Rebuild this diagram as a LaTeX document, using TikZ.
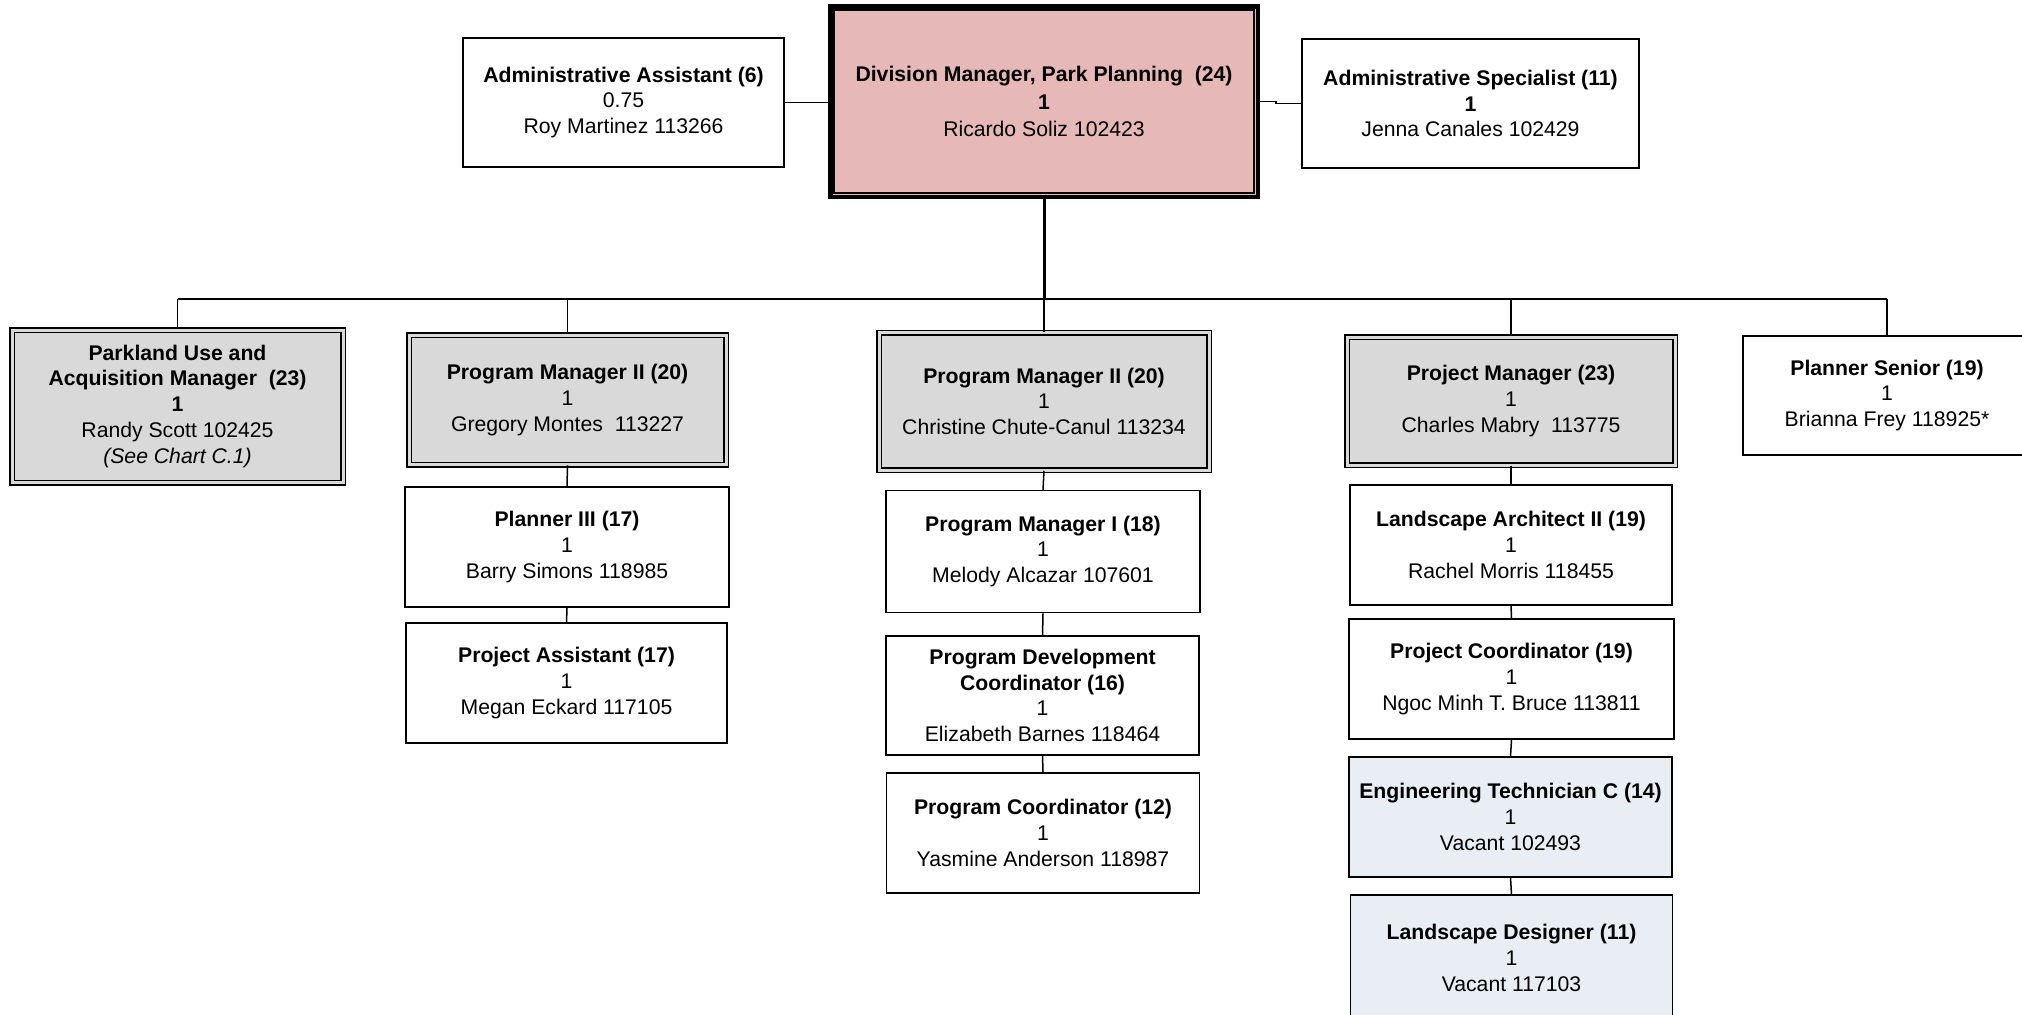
\documentclass[tikz,border=0pt]{standalone}
\usepackage{fontspec}
\setmainfont{Liberation Sans}
\definecolor{pinkfill}{HTML}{E6B8B7}
\definecolor{grayfill}{HTML}{D9D9D9}
\definecolor{bluefill}{HTML}{E9EDF4}
\tikzset{
  box/.style={draw=black, line width=0.75pt, fill=white, align=center, inner sep=0pt,
              font=\fontsize{10.6}{12.9}\selectfont},
  graybox/.style={box, fill=grayfill, double=grayfill, double distance=1.5pt, line width=0.75pt},
  bluebox/.style={box, fill=bluefill},
  topbox/.style={box, fill=pinkfill, line width=2.25pt, font=\fontsize{10.6}{13.8}\selectfont},
  link/.style={draw=black, line width=0.75pt},
  trunk/.style={draw=black, line width=1.5pt}
}
\begin{document}
\begin{tikzpicture}[x=0.5pt, y=-0.5pt]
\clip (0,0) rectangle (2022,1014);
\fill[white] (0,0) rectangle (2022,1014);

% top level
\node[topbox, minimum width=213.75pt, minimum height=95.25pt] (div) at (1044,101.5)
  {\textbf{Division Manager, Park Planning~ (24)}\\ \textbf{1}\\ Ricardo Soliz 102423};
\draw[line width=1pt] ([xshift=2.9pt,yshift=-2.9pt]div.north west) rectangle ([xshift=-2.9pt,yshift=2.9pt]div.south east);

\node[box, minimum width=160.5pt, minimum height=64.5pt] (asst) at (623.5,102.5)
  {\textbf{Administrative Assistant (6)}\\ 0.75\\ Roy Martinez 113266};
\node[box, minimum width=168.5pt, minimum height=64.5pt] (spec) at (1470.5,103.5)
  {\textbf{Administrative Specialist (11)}\\ \textbf{1}\\ Jenna Canales 102429};

% second level
\node[graybox, minimum width=165.5pt, minimum height=76.25pt] (park) at (177.5,406.25)
  {\textbf{Parkland Use and}\\ \textbf{Acquisition Manager~ (23)}\\ \textbf{1}\\ Randy Scott 102425\\ \textit{(See Chart C.1)}};
\node[graybox, minimum width=158.5pt, minimum height=64.75pt] (greg) at (567.5,399.75)
  {\textbf{Program Manager II (20)}\\ 1\\ Gregory Montes~ 113227};
\node[graybox, minimum width=165pt, minimum height=68.75pt] (chris) at (1044,401.25)
  {\textbf{Program Manager II (20)}\\ 1\\ Christine Chute-Canul 113234};
\node[graybox, minimum width=164pt, minimum height=64pt] (charles) at (1511,401)
  {\textbf{Project Manager (23)}\\ 1\\ Charles Mabry~ 113775};
\node[box, minimum width=144pt, minimum height=59.5pt] (senior) at (1887,395.5)
  {\textbf{Planner Senior (19)}\\ 1\\ Brianna Frey 118925*};

% third level
\node[box, minimum width=162pt, minimum height=60pt] (p3) at (567,547)
  {\textbf{Planner III (17)}\\ 1\\ Barry Simons 118985};
\node[box, minimum width=160.5pt, minimum height=60pt] (pa) at (566.5,683)
  {\textbf{Project Assistant (17)}\\ 1\\ Megan Eckard 117105};

\node[box, minimum width=157pt, minimum height=61pt] (pm1) at (1043,551.5)
  {\textbf{Program Manager I (18)}\\ 1\\ Melody Alcazar 107601};
\node[box, minimum width=156.5pt, minimum height=59.5pt] (pdc) at (1042.5,695.5)
  {\textbf{Program Development}\\ \textbf{Coordinator (16)}\\ 1\\ Elizabeth Barnes 118464};
\node[box, minimum width=156.5pt, minimum height=60pt] (pc) at (1043,833)
  {\textbf{Program Coordinator (12)}\\ 1\\ Yasmine Anderson 118987};

\node[box, minimum width=161pt, minimum height=60pt] (la2) at (1511,545)
  {\textbf{Landscape Architect II (19)}\\ 1\\ Rachel Morris 118455};
\node[box, minimum width=162.5pt, minimum height=60pt] (pcoord) at (1511.5,679)
  {\textbf{Project Coordinator (19)}\\ 1\\ Ngoc Minh T. Bruce 113811};
\node[bluebox, minimum width=161.5pt, minimum height=60pt] (etc) at (1510.5,817)
  {\textbf{Engineering Technician C (14)}\\ 1\\ Vacant 102493};
\node[bluebox, minimum width=161pt, minimum height=63pt] (ld) at (1511.5,958)
  {\textbf{Landscape Designer (11)}\\ 1\\ Vacant 117103};

% connectors
\coordinate (bus) at (1044,299);
\draw[link] (asst.east) -- (div.west |- asst.east);
\draw[link] (div.east) -- ++(8pt,0) |- (spec.west);
\draw[trunk] (div.south) -- (div.south |- bus);
\draw[link] (park.north |- bus) -- (senior.north |- bus);
\foreach \n in {park,greg,chris,charles,senior}
  \draw[link] (\n.north |- bus) -- (\n.north);
\draw[link] (greg.south) -- (p3.north);
\draw[link] (p3.south) -- (pa.north);
\draw[link] (chris.south) -- (pm1.north);
\draw[link] (pm1.south) -- (pdc.north);
\draw[link] (pdc.south) -- (pc.north);
\draw[link] (charles.south) -- (la2.north);
\draw[link] (la2.south) -- (pcoord.north);
\draw[link] (pcoord.south) -- (etc.north);
\draw[link] (etc.south) -- (ld.north);
\end{tikzpicture}
\end{document}
